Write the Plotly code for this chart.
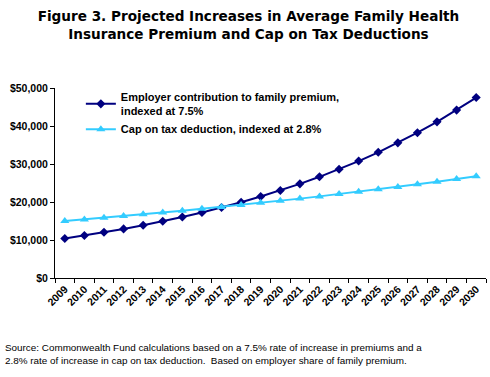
import plotly.graph_objects as go

years = [str(y) for y in range(2009, 2031)]
employer = [10400, 11180, 12020, 12920, 13890, 14930, 16050, 17250, 18550, 19940, 21430,
            23040, 24770, 26630, 28620, 30770, 33080, 35560, 38230, 41090, 44180, 47490]
cap = [15000, 15420, 15850, 16290, 16750, 17220, 17700, 18200, 18710, 19230, 19770,
       20320, 20890, 21480, 22080, 22700, 23330, 23980, 24650, 25340, 26050, 26780]
ytickvals = [0, 10000, 20000, 30000, 40000, 50000]
yticktext = ["$0", "$10,000", "$20,000", "$30,000", "$40,000", "$50,000"]

fig = go.Figure()
fig.add_trace(go.Scatter(
    x=years, y=employer, mode="lines+markers",
    name="<b>Employer contribution to family premium,<br>indexed at 7.5%</b>",
    line=dict(color="#000080", width=2),
    marker=dict(symbol="diamond", size=7, color="#000080"),
))
fig.add_trace(go.Scatter(
    x=years, y=cap, mode="lines+markers",
    name="<b>Cap on tax deduction, indexed at 2.8%</b>",
    line=dict(color="#33CCFF", width=2),
    marker=dict(symbol="triangle-up", size=8, color="#33CCFF"),
))

fig.update_layout(
    width=490, height=377,
    paper_bgcolor="white", plot_bgcolor="white",
    margin=dict(l=55, r=4, t=88, b=99, autoexpand=False),
    font=dict(family="Liberation Sans, Arial", color="black"),
    title=dict(
        text="<b>Figure 3. Projected Increases in Average Family Health<br>Insurance Premium and Cap on Tax Deductions</b>",
        x=0.507, xanchor="center", xref="container", yref="container", y=0.943, yanchor="top",
        font=dict(family="DejaVu Sans", size=13.6, color="black"),
    ),
    showlegend=True,
    legend=dict(
        x=0.06, y=1.026, xanchor="left", yanchor="top",
        bgcolor="rgba(0,0,0,0)", font=dict(size=11, color="black"),
        tracegroupgap=3, itemwidth=30,
    ),
    xaxis=dict(
        type="category", range=[-0.5, 21.5], tickangle=-45, tickson="boundaries",
        showline=True, linecolor="black", linewidth=1,
        ticks="outside", ticklen=4, tickcolor="black",
        showgrid=False, tickfont=dict(size=10.5, family="Liberation Sans, Arial"),
        tickprefix="<b>", ticksuffix="</b>", automargin=False,
    ),
    yaxis=dict(
        range=[0, 50000], tickvals=ytickvals, ticktext=["<b>%s</b>" % t for t in yticktext],
        showline=True, linecolor="black", linewidth=1,
        ticks="outside", ticklen=4, tickcolor="black",
        showgrid=False, zeroline=False, tickfont=dict(size=10.5), automargin=False,
    ),
    annotations=[dict(
        text="Source: Commonwealth Fund calculations based on a 7.5% rate of increase in premiums and a<br>2.8% rate of increase in cap on tax deduction.  Based on employer share of family premium.",
        xref="paper", yref="paper", x=-52/431, y=-0.325, xanchor="left", yanchor="top",
        align="left", showarrow=False, font=dict(size=9.9, color="black"),
    )],
)

fig.write_html("out.html", config={"displayModeBar": False},
               post_script="document.body.style.margin='0';document.body.style.overflow='hidden';")
